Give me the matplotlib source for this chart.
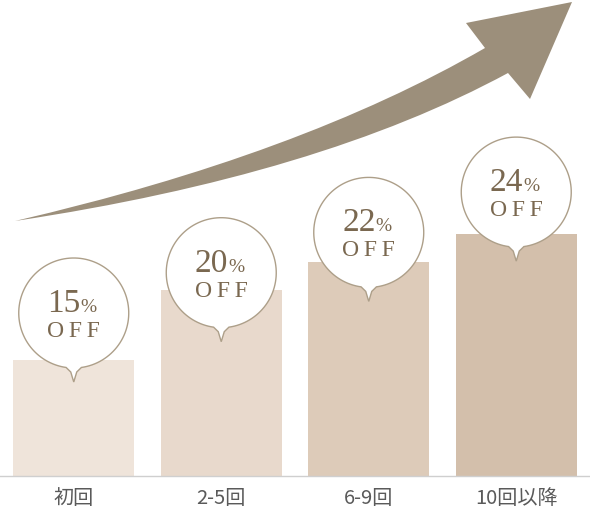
import numpy as np
import matplotlib.pyplot as plt
from matplotlib.path import Path
from matplotlib.patches import PathPatch, Polygon

# データ
labels = ['初回', '2-5回', '6-9回', '10回以降']
discount = [15, 20, 22, 24]
bar_colors = ['#efe4da', '#e8d9cc', '#ddcbb9', '#d3bfab']

W, H = 590, 512
fig = plt.figure(figsize=(W / 100, H / 100), dpi=100)

# 棒グラフ用の軸（下端がベースライン）
base_y = 476
ax = fig.add_axes([0, (H - base_y) / H, 1, base_y / H])
x = np.arange(len(labels))
ax.bar(x, discount, width=0.82, color=bar_colors, zorder=1)
ax.set_xlim(-0.5, 3.5)
ax.set_ylim(6.71, 6.71 + base_y / 14)
ax.set_yticks([])
ax.set_xticks(x)
ax.set_xticklabels(labels, fontsize=14.5, color='#5a5a5a',
                   family=['Noto Sans CJK JP', 'DejaVu Sans'])
ax.tick_params(axis='x', length=0, pad=9)
for s in ['top', 'left', 'right']:
    ax.spines[s].set_visible(False)
ax.spines['bottom'].set_color('#cfcfcf')
ax.spines['bottom'].set_linewidth(1)
ax.patch.set_alpha(0)

# 上に重ねるピクセル座標の軸
ov = fig.add_axes([0, 0, 1, 1], zorder=5)
ov.set_xlim(0, W)
ov.set_ylim(H, 0)
ov.axis('off')
ov.patch.set_alpha(0)

# 矢印
arrow_col = '#9c8f7b'
verts = [(15, 221), (300, 155), (485, 48),
         (466, 23), (572, 2), (530, 99), (508, 73),
         (320, 175), (15, 221), (15, 221)]
codes = [Path.MOVETO, Path.CURVE3, Path.CURVE3,
         Path.LINETO, Path.LINETO, Path.LINETO, Path.LINETO,
         Path.CURVE3, Path.CURVE3, Path.CLOSEPOLY]
ov.add_patch(PathPatch(Path(verts, codes), facecolor=arrow_col,
                       edgecolor='none'))

# 吹き出し
fig.canvas.draw()
r = 55
delta = np.radians(8)
txt_col = '#7a6850'
for i, v in enumerate(discount):
    px, _ = ax.transData.transform((x[i], v))
    cx = px
    cy = 313 - 40.3 * i
    phi = np.linspace(delta, 2 * np.pi - delta, 120)
    pts = [(cx + r * np.sin(p), cy + r * np.cos(p)) for p in phi]
    pts += [(cx - 3, cy + r + 4), (cx, cy + 69), (cx + 3, cy + r + 4)]
    ov.add_patch(Polygon(pts, closed=True, facecolor='white',
                         edgecolor='#ad9f89', linewidth=1.0))
    ov.text(cx - 10, cy - 1, str(v), fontsize=24, color=txt_col,
            family='Liberation Serif', ha='center', va='baseline')
    ov.text(cx + 15, cy - 1, '%', fontsize=14, color=txt_col,
            family='Liberation Serif', ha='center', va='baseline')
    ov.text(cx, cy + 24, 'O\u2009F\u2009F', fontsize=17, color=txt_col,
            family=['Liberation Serif', 'DejaVu Serif'],
            ha='center', va='baseline')

fig.savefig('out.png', dpi=100)
